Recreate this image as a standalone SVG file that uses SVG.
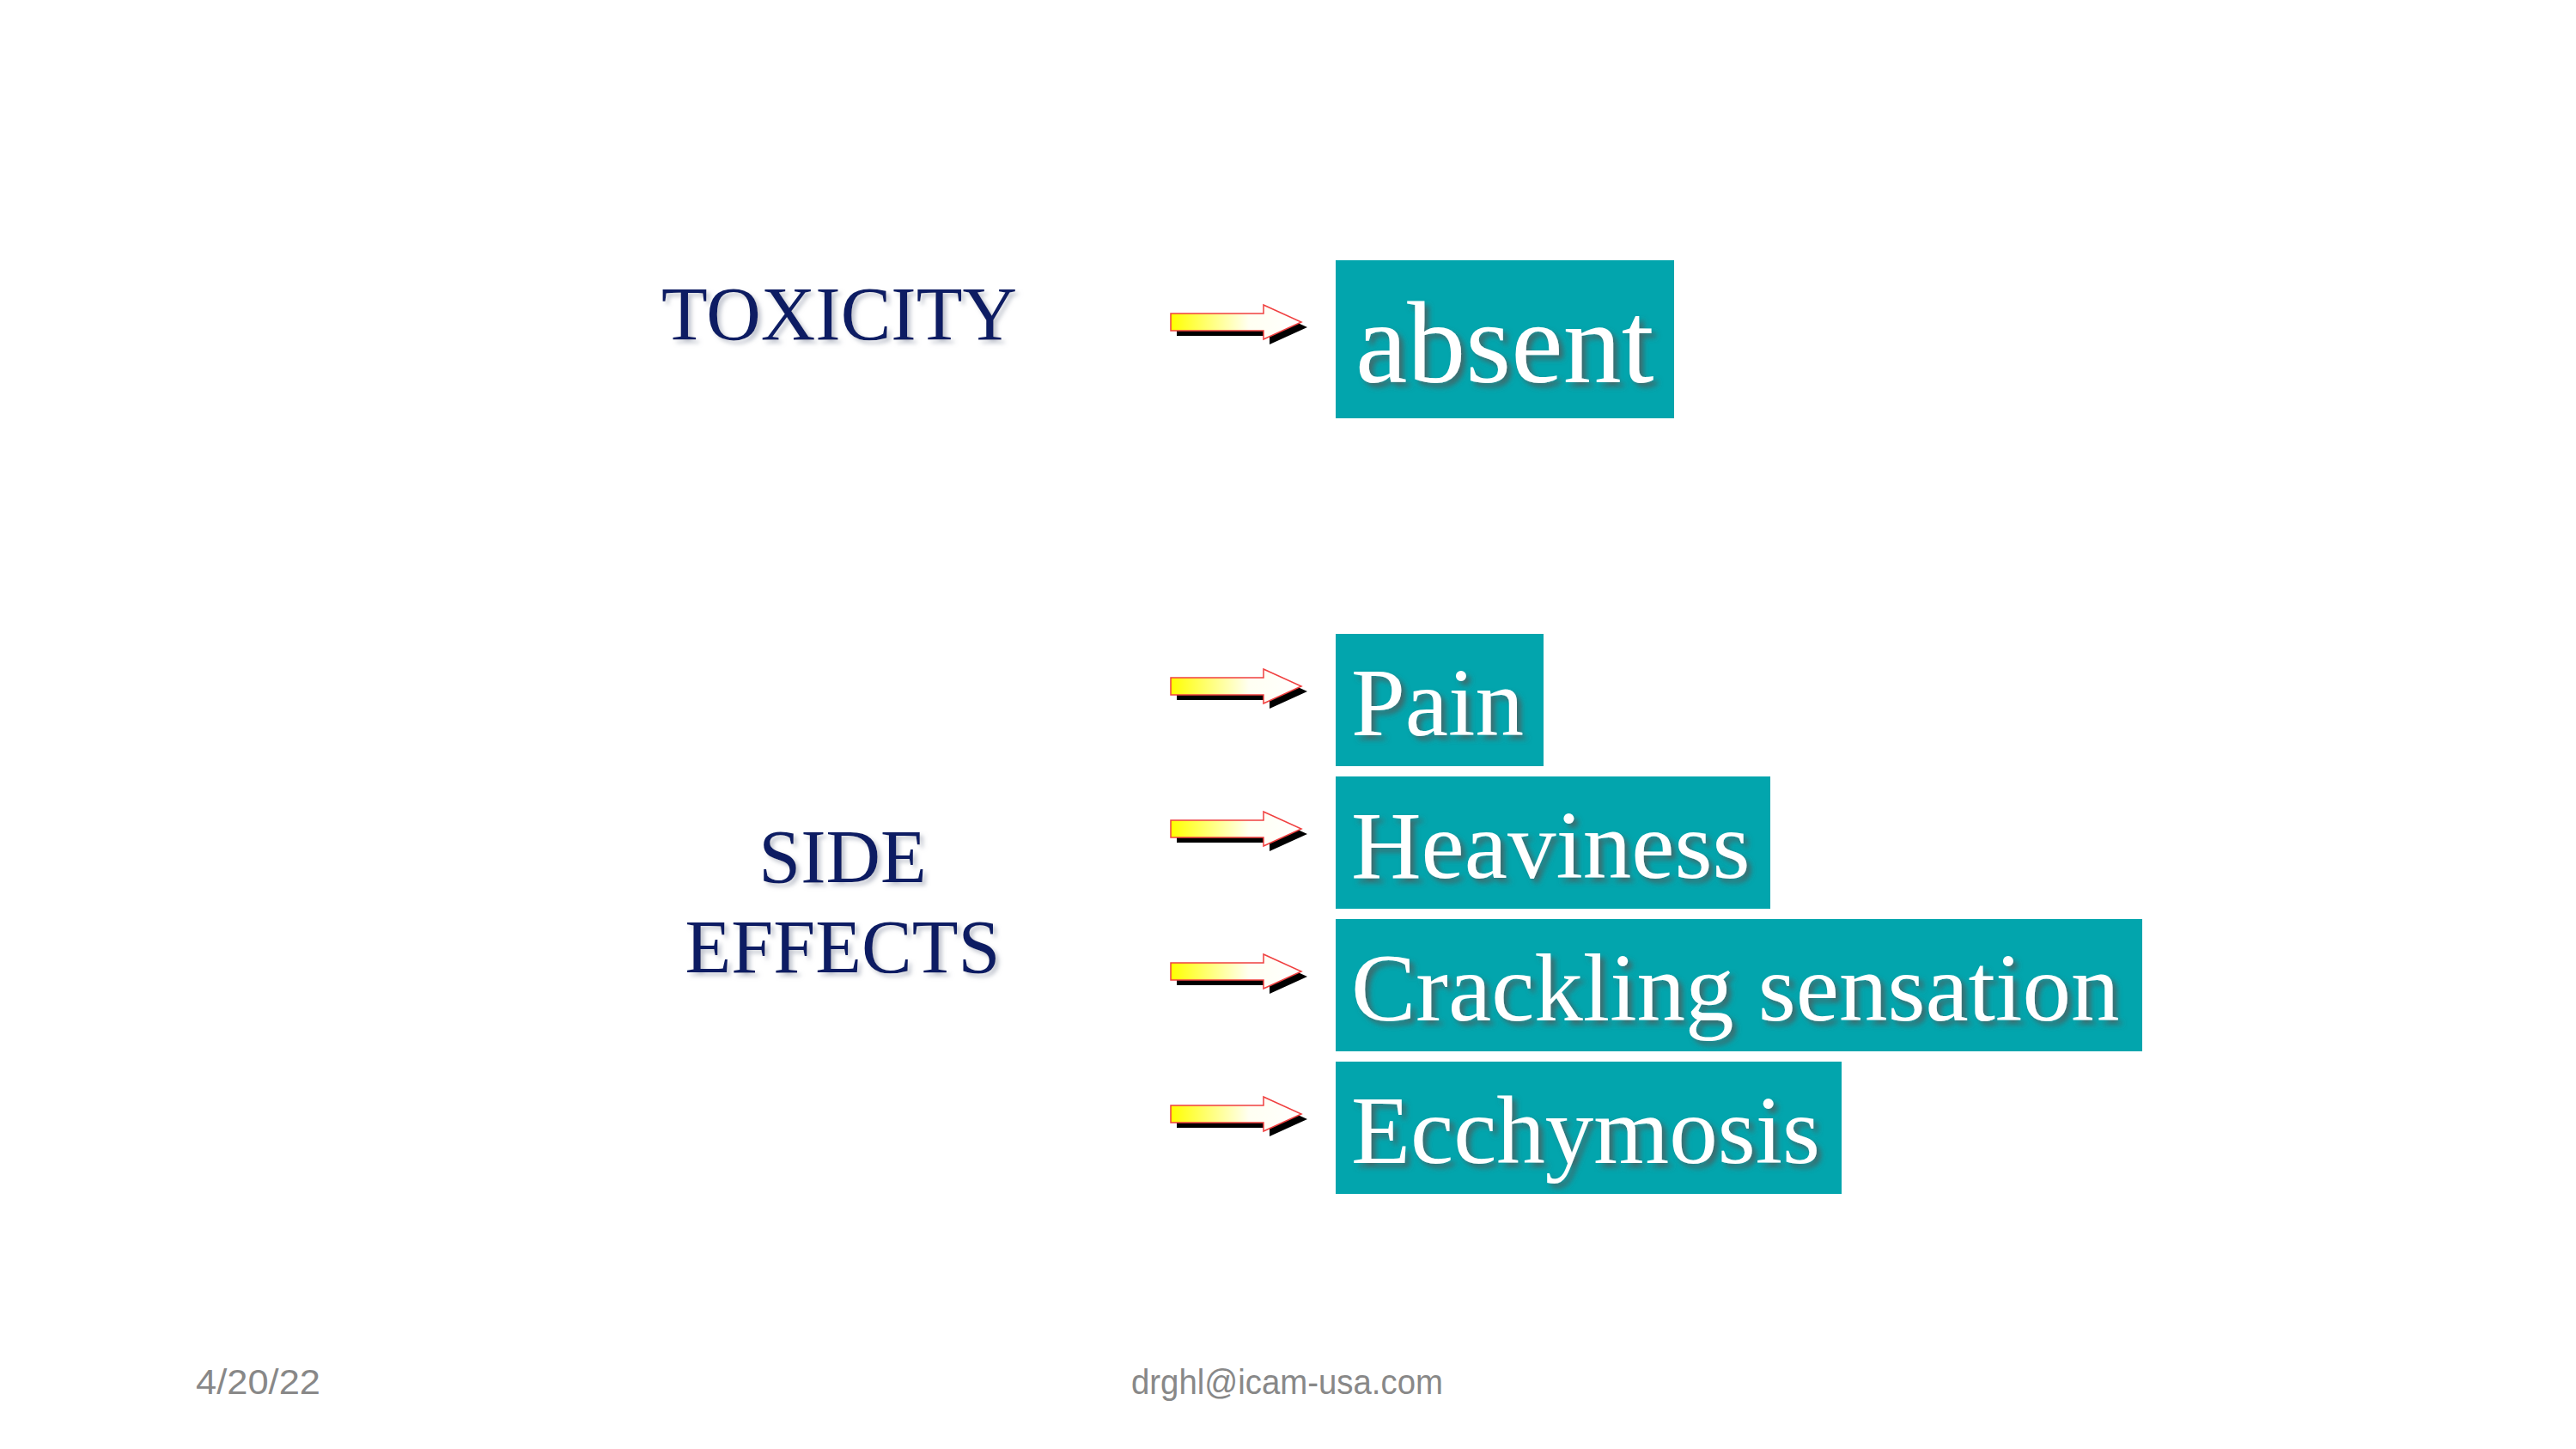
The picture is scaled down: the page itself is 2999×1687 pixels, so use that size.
<svg xmlns="http://www.w3.org/2000/svg" xmlns:xlink="http://www.w3.org/1999/xlink" width="2999" height="1687" viewBox="0 0 2999 1687">
<style>
.head{font-family:"Liberation Serif","Times New Roman",serif;font-size:88px;fill:#0B1F63;}
.box{fill:#02A5AD;}
.lbl{font-family:"Liberation Serif","Times New Roman",serif;font-size:113px;fill:#FFFFFF;}
.foot{font-family:"Liberation Sans",Arial,sans-serif;font-size:41px;fill:#888888;}
</style>
<defs>
<linearGradient id="yg" x1="0" y1="0" x2="1" y2="0">
<stop offset="0" stop-color="#FFFF00"/>
<stop offset="0.6" stop-color="#FFFFF2"/>
<stop offset="1" stop-color="#FFFFFF"/>
</linearGradient>
<filter id="wsh" x="-10%" y="-20%" width="130%" height="150%">
<feGaussianBlur in="SourceAlpha" stdDeviation="3"/>
<feOffset dx="5" dy="5" result="b"/>
<feFlood flood-color="#555555" flood-opacity="0.75"/>
<feComposite in2="b" operator="in"/>
<feMerge><feMergeNode/><feMergeNode in="SourceGraphic"/></feMerge>
</filter>
<filter id="nsh" x="-10%" y="-20%" width="130%" height="150%">
<feGaussianBlur in="SourceAlpha" stdDeviation="2.5"/>
<feOffset dx="4" dy="4" result="b"/>
<feFlood flood-color="#9AA0B0" flood-opacity="0.6"/>
<feComposite in2="b" operator="in"/>
<feMerge><feMergeNode/><feMergeNode in="SourceGraphic"/></feMerge>
</filter>
<g id="arr">
<path d="M0,-10 H108 V-20 L152,0 L108,20 V10 H0 Z" transform="translate(7,6)" fill="#000000"/>
<path d="M0,-10 H108 V-20 L152,0 L108,20 V10 H0 Z" fill="url(#yg)" stroke="#F04040" stroke-width="1.5"/>
</g>
</defs>
<rect width="2999" height="1687" fill="#FFFFFF"/>

<g id="toxicity">
<text class="head" x="977" y="395" text-anchor="middle" filter="url(#nsh)">TOXICITY</text>
</g>
<g id="side-effects">
<text class="head" x="981" y="1027" text-anchor="middle" filter="url(#nsh)">SIDE</text>
<text class="head" x="981" y="1132" text-anchor="middle" filter="url(#nsh)">EFFECTS</text>
</g>

<g id="connectors">
<use xlink:href="#arr" x="1363" y="375"/>
<use xlink:href="#arr" x="1363" y="799"/>
<use xlink:href="#arr" x="1363" y="965"/>
<use xlink:href="#arr" x="1363" y="1131"/>
<use xlink:href="#arr" x="1363" y="1297"/>
</g>

<g id="absent">
<rect class="box" x="1555" y="303" width="394" height="184"/>
<text class="lbl" x="1578" y="445" style="font-size:136px" filter="url(#wsh)">absent</text>
</g>
<g id="pain">
<rect class="box" x="1555" y="738" width="242" height="154"/>
<text class="lbl" x="1573" y="856" filter="url(#wsh)">Pain</text>
</g>
<g id="heaviness">
<rect class="box" x="1555" y="904" width="506" height="154"/>
<text class="lbl" x="1573" y="1022" filter="url(#wsh)">Heaviness</text>
</g>
<g id="crackling">
<rect class="box" x="1555" y="1070" width="939" height="154"/>
<text class="lbl" x="1573" y="1188" filter="url(#wsh)">Crackling sensation</text>
</g>
<g id="ecchymosis">
<rect class="box" x="1555" y="1236" width="589" height="154"/>
<text class="lbl" x="1573" y="1354" filter="url(#wsh)">Ecchymosis</text>
</g>

<g id="footer">
<text class="foot" x="228" y="1623" textLength="145" lengthAdjust="spacingAndGlyphs">4/20/22</text>
<text class="foot" x="1317" y="1623" textLength="363" lengthAdjust="spacingAndGlyphs">drghl@icam-usa.com</text>
</g>
</svg>
